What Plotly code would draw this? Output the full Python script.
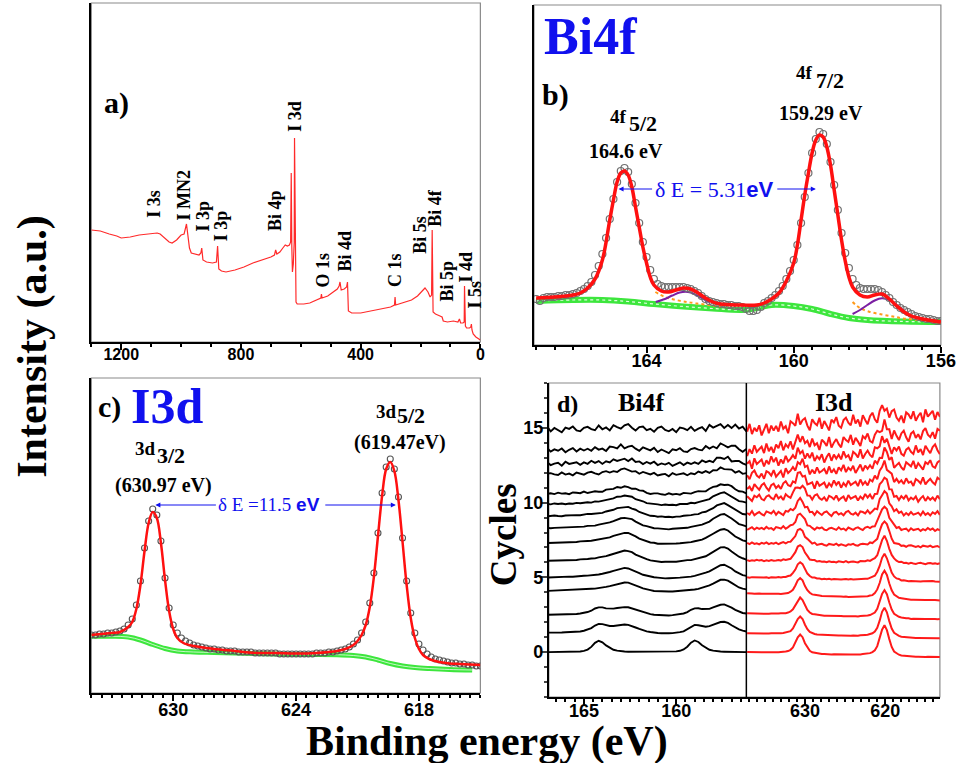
import numpy as np
import plotly.graph_objects as go

W, H = 971, 763
KX = 0.992  # small horizontal correction for the rendered page
SERIF = "Liberation Serif"
SANS = "Liberation Sans"
BLUE = "#1010ee"

# ---------------- Panel a: survey spectrum ----------------
survey_be = [1300,1270,1240,1215,1200,1170,1140,1110,1080,1070,
             1055,1040,1030,1015,1000,990,982,976,972,966,
             950,940,934,931,927,915,895,882,878,874,
             865,850,820,790,760,730,700,688,684,680,
             670,660,652,645,638,634,632,630,628,625,
             622,621,619.5,618,616,612,590,570,545,533,
             531,529,510,490,478,472,469,465,455,447,
             444,441,430,400,370,330,300,287,285,283,
             260,230,210,195,185,175,168,163,161,158,
             150,135,128,124,110,90,75,70,66,58,
             54,53,50,46,36,32,30,28,24,15,
             6,0]
survey_int = [112,111,108,106,104,105,107,108,109,108,
              104,100,99,102,107,108,118,104,94,89,
              88,87,89,94,82,80,79,80,96,73,
              71,70,72,75,79,82,85,87,92,88,
              90,94,97,96,97,100,169,95,70,78,
              100,204,110,55,40,38,38,39,42,44,
              48,44,46,50,53,56,60,52,53,55,
              60,31,29,29,31,33,35,37,45,37,
              39,42,46,51,54,50,45,47,112,30,
              28,26,25,21,20,21,20,23,19,19,
              20,56,16,14,14,15,18,12,8,5,
              3,2]
survey_labels = ["I 3s", "I MN2", "I 3p", "I 3p", "Bi 4p", "I 3d", "O 1s",
                 "Bi 4d", "C 1s", "Bi 5s", "Bi 4f", "Bi 5p", "I 4d", "I 5s"]
survey_ticks = [1200, 800, 400, 0]

# ---------------- Panel b: Bi4f ----------------
b_data_start, b_data_step = 167.0, 0.1
b_data_int = [46,44,47,48,48,48,49,49,50,50,
              51,52,54,56,59,63,70,79,91,107,
              126,146,163,174,177,173,161,142,122,103,
              88,75,66,61,59,58,58,58,58,58,
              58,57,56,54,52,49,46,44,43,42,
              41,41,40,40,39,39,38,36,34,34,
              35,38,42,44,47,50,54,59,66,74,
              85,100,122,148,172,192,206,213,211,201,
              183,160,135,112,92,77,66,60,57,56,
              56,56,56,55,53,50,47,43,40,37,
              35,33,31,29,28,27,26,26,25,24,
              24]
b_fit_be = [167.0,166.5,166.0,165.8,165.6,165.4,165.2,165.0,164.9,164.8,
            164.7,164.6,164.5,164.4,164.3,164.2,164.1,164.0,163.9,163.8,
            163.6,163.4,163.2,163.0,162.8,162.6,162.4,162.2,162.0,161.5,
            161.0,160.8,160.6,160.4,160.2,160.0,159.9,159.8,159.7,159.6,
            159.5,159.4,159.3,159.2,159.1,159.0,158.9,158.8,158.7,158.6,
            158.5,158.4,158.2,158.0,157.8,157.6,157.4,157.2,157.0,156.8,
            156.5,156.0]
b_fit_int = [47,48,50,52,57,66,85,125,145,163,
             172,174,170,158,138,118,98,82,68,60,
             54,53,55,57,56,52,47,43,41,40,
             40,42,46,52,64,82,100,125,150,172,
             192,205,210,208,198,180,155,130,105,84,
             68,58,50,48,50,51,46,39,33,29,
             26,23]
b_bg_be = [167.0,166.0,165.2,164.5,163.8,163.0,162.2,161.4,161.0,160.6,160.0,159.5,159.0,158.5,158.0,157.0,156.0]
b_bg_int = [44,45,45,43.5,41,38.5,36.5,35,37,40,39,36,31,27,25,23.5,23]
b_sat1_be = [163.75,163.5,163.3,163.1,162.94,162.8,162.6,162.4,162.3]
b_sat1_int = [43,46,49.5,52.5,53.3,52.5,49,45,43]
b_sat2_be = [158.4,158.2,158.0,157.8,157.6,157.4,157.2,157.0,156.85]
b_sat2_int = [31,35,40,44.5,46.7,45,40,34,30]
b_tail1_be = [163.76,163.5,163.2,162.9,162.67,162.3,161.94]
b_tail1_int = [53,48,45,43,41.7,40,38.3]
b_tail2_be = [158.4,158.2,157.95,157.6,157.3,157.05,156.6,156.15]
b_tail2_int = [43,37,33.3,30.5,28.5,26.7,25,23.3]
b_ticks = [164, 160, 156]

# ---------------- Panel c: I3d ----------------
c_data_start, c_data_step = 634.0, 0.2
c_data_int = [58,58,59,59,60,60,61,62,64,68,
              74,88,112,145,172,184,178,152,115,85,
              68,60,55,52,50,48,47,46,45,44,
              44,43,43,42,42,42,41,41,41,41,
              40,40,40,40,40,40,39,39,39,39,
              39,39,39,39,39,40,40,40,41,41,
              42,43,44,46,49,53,60,71,90,120,
              160,200,226,234,224,196,155,112,80,60,
              49,43,39,36,34,33,32,31,30,30,
              29,29,28,28,27,27]
c_fit_be = [634.0,633.0,632.6,632.2,632.0,631.8,631.6,631.4,631.2,631.0,
            630.8,630.6,630.4,630.2,630.0,629.8,629.5,629.0,628.0,627.0,
            626.0,625.0,624.0,623.0,622.4,622.0,621.6,621.2,621.0,620.8,
            620.6,620.4,620.2,620.0,619.8,619.6,619.4,619.2,619.0,618.8,
            618.6,618.4,618.2,618.0,617.8,617.5,617.0,616.5,616.0,615.0]
c_fit_int = [58,60,61,66,71,84,108,142,170,181,
             175,150,113,82,64,55,50,47,44,42,
             40,40,39.5,40,41,42,44,48,52,58,
             68,86,116,157,197,224,231,222,193,151,
             108,75,55,44,38,34,31,29.5,29,28]
c_bg_be = [634,633,632.2,631.6,631.0,630.4,629.8,629,628,627,626,625,624,623,622,621.2,620.6,620,619.4,618.8,618.2,617.5,616.5,615.4]
c_bg_int = [56.7,56.7,56,53,48.5,44.5,42,41,40.5,40,39.5,39,38.5,38.5,38.3,37.5,36,33,29.5,27,25.5,24.5,23.5,23]
c_ticks = [630, 624, 618]

# ---------------- Panel d: cycles ----------------
bi_start, bi_step = 167.0, 0.2
bi_profile_new = [0.00,0.00,0.01,0.01,0.02,0.03,0.04,0.05,0.06,0.08,
                  0.10,0.12,0.14,0.17,0.20,0.24,0.29,0.35,0.43,0.51,
                  0.58,0.62,0.60,0.52,0.40,0.28,0.18,0.10,0.04,0.00,
                  -0.03,-0.05,-0.06,-0.06,-0.05,-0.04,-0.02,0.00,0.03,0.06,
                  0.10,0.15,0.22,0.30,0.41,0.55,0.70,0.82,0.84,0.75,
                  0.58,0.40,0.26,0.16,0.10]
bi_profile_c0 = [0.00,0.00,0.00,0.00,0.00,0.00,0.01,0.01,0.02,0.04,
                 0.08,0.17,0.35,0.62,0.76,0.66,0.45,0.28,0.16,0.10,
                 0.06,0.04,0.03,0.03,0.03,0.02,0.02,0.02,0.01,0.01,
                 0.01,0.01,0.01,0.02,0.03,0.05,0.09,0.18,0.36,0.63,
                 0.78,0.68,0.46,0.28,0.16,0.10,0.06,0.04,0.03,0.02,
                 0.02,0.01,0.01,0.00,0.00]
bi_base = [0.0, 1.3, 2.5, 4.1, 5.0, 6.1, 7.3, 8.3, 9.1, 9.9, 10.6, 11.9, 12.6, 13.5, 14.9]
bi_amp_old = [1.0, 0.55, 0.45, 0, 0, 0, 0, 0, 0, 0, 0, 0, 0, 0, 0]
bi_amp_new = [0.0, 0.85, 0.8, 0.9, 1.0, 1.1, 1.1, 1.1, 1.0, 0.9, 0.75, 0.45, 0.45, 0.4, 0.3]
bi_jitter = [0.0, 0.01, 0.01, 0.012, 0.015, 0.02, 0.02, 0.025, 0.03, 0.04, 0.07, 0.12, 0.15, 0.18, 0.22]

i3_start, i3_step = 637.2, 0.3
i3_profile = ([0.0] * 12 +
              [0.01,0.02,0.03,0.04,0.06,0.09,0.16,0.32,0.60,0.94,1.11,0.94,0.58,0.30,0.12,0.04,0.00,-0.03,-0.05,-0.06,-0.07] +
              [-0.08] * 14 +
              [-0.06,-0.05,-0.03,-0.01,0.02,0.08,0.20,0.44,0.90,1.45,1.72,1.43,0.88,0.40,0.14,0.01,-0.06,-0.11,-0.13,-0.15,-0.16] +
              [-0.18] * 13)
i3_left = [0.0, 1.27, 2.6, 3.93, 5.0, 6.13, 7.27, 8.27, 9.27, 10.33, 11.0, 11.8, 12.6, 13.47, 14.8]
i3_right = [-0.33, 0.93, 2.2, 3.47, 4.73, 5.93, 7.07, 8.2, 9.27, 10.27, 11.47, 12.6, 13.6, 14.67, 15.93]
i3_amp = [1.1, 1.05, 1.0, 1.0, 0.95, 0.95, 0.9, 0.85, 0.8, 0.75, 0.7, 0.6, 0.5, 0.45, 0.4]
i3_jitter = [0.01, 0.01, 0.015, 0.02, 0.03, 0.05, 0.08, 0.12, 0.18, 0.25, 0.3, 0.35, 0.4, 0.45, 0.5]

# read-off wiggle pattern of the noisy traces (unit amplitude)
wiggle = [0.3,-0.5,0.8,-0.2,0.1,-0.9,0.6,0.2,-0.4,0.9,-0.7,0.0,0.5,-0.3,-0.8,0.7,0.2,-0.1,0.9,-0.6,
          0.4,-0.2,-0.9,0.5,0.1,0.8,-0.4,-0.7,0.3,0.6,-0.1,-0.5,0.9,-0.3,0.2,-0.8,0.7,0.0,-0.6,0.4,
          0.8,-0.2,-0.9,0.3,0.6,-0.4,0.1,-0.7,0.5,0.9,-0.1,-0.5,0.2,-0.8,0.6,0.3,-0.3,0.7,-0.6,0.0,
          0.4,-0.9,0.8,-0.2,0.1,0.5,-0.7,0.3,-0.4,0.9,-0.1,0.6,-0.8,0.2,-0.5,0.7,-0.3,0.0,0.4,-0.6,
          0.8,-0.4,0.2,-0.7,0.5,-0.1,0.9,-0.5,0.3,-0.2,0.6,-0.8,0.1,0.7,-0.6,0.4,-0.3]

# ================= figure =================
def px(x):
    return min(x / (W * KX), 1.0)

def py(y):
    return 1 - y / H

fig = go.Figure()

# panel a
fig.add_trace(go.Scatter(x=survey_be, y=survey_int, mode="lines",
                         line=dict(color="#ff2a2a", width=1.2), xaxis="x", yaxis="y"))

# panel b
b_data_be = np.round(b_data_start - b_data_step * np.arange(len(b_data_int)), 2)
fig.add_trace(go.Scatter(x=b_bg_be, y=b_bg_int, mode="lines",
                         line=dict(color="#3de63d", width=6, shape="spline"), xaxis="x2", yaxis="y2"))
fig.add_trace(go.Scatter(x=b_bg_be, y=b_bg_int, mode="lines",
                         line=dict(color="rgba(255,255,255,0.85)", width=1.2, dash="dot", shape="spline"),
                         xaxis="x2", yaxis="y2"))
for bx, by in [(b_tail1_be, b_tail1_int), (b_tail2_be, b_tail2_int)]:
    fig.add_trace(go.Scatter(x=bx, y=by, mode="lines",
                             line=dict(color="#ff9a1a", width=2, dash="dot", shape="spline"),
                             xaxis="x2", yaxis="y2"))
for bx, by in [(b_sat1_be, b_sat1_int), (b_sat2_be, b_sat2_int)]:
    fig.add_trace(go.Scatter(x=bx, y=by, mode="lines",
                             line=dict(color="#7b1fa2", width=2, shape="spline"),
                             xaxis="x2", yaxis="y2"))
fig.add_trace(go.Scatter(x=b_data_be, y=b_data_int, mode="markers",
                         marker=dict(symbol="circle-open", size=7, color="#707070", line=dict(width=1.2)),
                         xaxis="x2", yaxis="y2"))
fig.add_trace(go.Scatter(x=b_fit_be, y=b_fit_int, mode="lines",
                         line=dict(color="#ff1010", width=3.5, shape="spline"), xaxis="x2", yaxis="y2"))

# panel c
c_data_be = np.round(c_data_start - c_data_step * np.arange(len(c_data_int)), 2)
fig.add_trace(go.Scatter(x=c_bg_be, y=c_bg_int, mode="lines",
                         line=dict(color="#3de63d", width=5, shape="spline"), xaxis="x3", yaxis="y3"))
fig.add_trace(go.Scatter(x=c_bg_be, y=c_bg_int, mode="lines",
                         line=dict(color="rgba(255,255,255,0.7)", width=1, shape="spline"),
                         xaxis="x3", yaxis="y3"))
fig.add_trace(go.Scatter(x=c_data_be, y=c_data_int, mode="markers",
                         marker=dict(symbol="circle-open", size=6, color="#555555", line=dict(width=1.1)),
                         xaxis="x3", yaxis="y3"))
fig.add_trace(go.Scatter(x=c_fit_be, y=c_fit_int, mode="lines",
                         line=dict(color="#ff1010", width=2.5, shape="spline"), xaxis="x3", yaxis="y3"))

# panel d
bi_be = np.round(bi_start - bi_step * np.arange(len(bi_profile_new)), 2)
p_new = np.array(bi_profile_new)
p_old = np.array(bi_profile_c0)
wig = np.array(wiggle)
nw = len(wig)
for c in range(len(bi_base)):
    idx = (np.arange(len(bi_be)) + 29 * c) % nw
    y = bi_base[c] + bi_amp_old[c] * p_old + bi_amp_new[c] * p_new + bi_jitter[c] * wig[idx]
    fig.add_trace(go.Scatter(x=bi_be, y=y, mode="lines", line=dict(color="black", width=1.9),
                             xaxis="x4", yaxis="y4"))

i3_be = np.round(i3_start - i3_step * np.arange(len(i3_profile)), 2)
p_i3 = np.array(i3_profile)
frac = (i3_be[0] - i3_be) / (i3_be[0] - i3_be[-1])
for c in range(len(i3_left)):
    idx = (np.arange(len(i3_be)) + 13 * c) % nw
    tilt = i3_right[c] - i3_left[c] + 0.18 * i3_amp[c]
    y = i3_left[c] + tilt * frac + i3_amp[c] * p_i3 + i3_jitter[c] * wig[idx]
    fig.add_trace(go.Scatter(x=i3_be, y=y, mode="lines", line=dict(color="#ff1a1a", width=2),
                             xaxis="x5", yaxis="y4"))

# ---------------- axes ----------------
def xax(domain, rng, ticks, minor_dtick, anchor, size, standoff):
    return dict(domain=domain, range=rng, anchor=anchor, tickmode="array", tickvals=ticks,
                ticktext=[str(t) for t in ticks], ticks="outside", ticklen=6, tickwidth=1.5,
                tickcolor="black", ticklabelstandoff=standoff, ticklabeloverflow="allow",
                minor=dict(dtick=minor_dtick, ticks="outside", ticklen=3, tickcolor="black", showgrid=False),
                showline=True, linecolor="black", linewidth=2, showgrid=False, zeroline=False,
                tickfont=dict(family=SANS, size=size, color="black", weight="bold"))

def yax(domain, rng, anchor):
    return dict(domain=domain, range=rng, anchor=anchor, showticklabels=False, ticks="",
                showline=True, linecolor="black", linewidth=2, showgrid=False, zeroline=False)

layout = dict(
    width=W, height=H, margin=dict(l=0, r=0, t=0, b=0), autosize=False,
    paper_bgcolor="white", plot_bgcolor="white", showlegend=False,
    xaxis=xax([px(92), px(484)], [1300, 0], survey_ticks, 100, "y", 16, -9),
    yaxis=yax([py(342), py(3)], [0, 339], "x"),
    xaxis2=xax([px(538), px(948)], [167.06, 156.0], b_ticks, 0.5, "y2", 18, -8),
    yaxis2=yax([py(345), py(5)], [0, 340], "x2"),
    xaxis3=xax([px(92), px(484)], [634.0, 615.0], c_ticks, 0.5, "y3", 18, -7),
    yaxis3=yax([py(693), py(378)], [0, 315], "x3"),
    xaxis4=xax([px(553), px(752)], [166.9, 156.2], [165, 160], 0.5, "y4", 18, -10),
    xaxis5=xax([px(752), px(947)], [637.3, 613.2], [630, 620], 1, "y4", 18, -10),
    yaxis4=dict(domain=[py(697), py(383)], range=[-3, 18], anchor="x4",
                tickmode="array", tickvals=[0, 5, 10, 15], ticks="outside", ticklen=6, tickwidth=1.5,
                ticklabelstandoff=-6,
                minor=dict(dtick=1, ticks="outside", ticklen=3),
                showline=True, linecolor="black", linewidth=2, showgrid=False, zeroline=False,
                tickfont=dict(family=SANS, size=18, color="black", weight="bold")),
)
fig.update_layout(**layout)

# frames (thin grey top/right) and d divider
shapes = []
for (x0, y0, x1, y1) in [(92, 3, 484, 342), (538, 5, 948, 345), (92, 378, 484, 693), (553, 383, 947, 697)]:
    shapes.append(dict(type="rect", xref="paper", yref="paper", x0=px(x0), x1=px(x1), y0=py(y1), y1=py(y0),
                       line=dict(color="#8a8a8a", width=1.2), layer="below"))
shapes.append(dict(type="line", xref="paper", yref="paper", x0=px(752), x1=px(752), y0=py(697), y1=py(383),
                   line=dict(color="black", width=1.5)))
fig.update_layout(shapes=shapes)

# ---------------- annotations ----------------
anns = []

def ann(text, x, y, size, color="black", angle=0, family=SERIF, bold=True):
    anns.append(dict(text=("<b>%s</b>" % text) if bold else text, x=px(x), y=py(y),
                     xref="paper", yref="paper", showarrow=False, textangle=angle,
                     xanchor="center", yanchor="middle",
                     font=dict(family=family, size=size, color=color)))

# survey labels
label_pos = [(155, 204), (185, 195), (205, 216), (223, 226), (277, 210), (297, 116), (325, 270),
             (348, 251), (398, 270), (423, 235), (438, 208), (450, 281), (470, 267), (479, 294)]
for t, (x, y) in zip(survey_labels, label_pos):
    ann(t, x, y, 18, angle=-90)

ann("a)", 117, 103, 30)
ann("b)", 560, 95, 30)
ann("c)", 110, 407, 30)
ann("d)", 572, 404, 24)
ann("Bi4f", 595, 37, 52, color=BLUE)
ann("I3d", 168, 406, 50, color=BLUE)
ann("Bi4f", 646, 402, 26)
ann("I3d", 840, 402, 26)

# peak labels panel b
ann("4f", 623, 116, 19)
ann("5/2", 648, 123, 22)
ann("164.6 eV", 631, 151, 20)
ann("4f", 811, 73, 19)
ann("7/2", 836, 80, 22)
ann("159.29 eV", 827, 113, 20)
# peak labels panel c
ann("3d", 147, 449, 19)
ann("3/2", 172, 455, 22)
ann("(630.97 eV)", 165, 485, 20)
ann("3d", 389, 411, 19)
ann("5/2", 414, 415, 22)
ann("(619.47eV)", 403, 442, 20)

# delta E labels
anns.append(dict(text='<span style="font-family:Liberation Serif">δ E = 5.31</span><b>eV</b>',
                 x=px(719), y=py(189), xref="paper", yref="paper", showarrow=False,
                 xanchor="center", yanchor="middle",
                 font=dict(family=SANS, size=22, color=BLUE)))
anns.append(dict(text='<span style="font-family:Liberation Serif">δ E =11.5 </span><b>eV</b>',
                 x=px(271), y=py(505), xref="paper", yref="paper", showarrow=False,
                 xanchor="center", yanchor="middle",
                 font=dict(family=SANS, size=19, color=BLUE)))
for (xh, yh, ax, xr, yr) in [(164.76, 156, 35, "x2", "y2"), (159.40, 156, -40, "x2", "y2"),
                             (630.87, 188, 62, "x3", "y3"), (619.13, 188, -72, "x3", "y3")]:
    anns.append(dict(text="", x=xh, y=yh, xref=xr, yref=yr, showarrow=True, ax=ax, ay=0,
                     arrowhead=2, arrowsize=1, arrowwidth=1, arrowcolor=BLUE))

# global titles
ann("Intensity (a.u.)", 32, 346, 42, angle=-90)
ann("Binding energy (eV)", 491, 741, 42)
ann("Cycles", 507, 535, 37, angle=-90)

fig.update_layout(annotations=anns)
fig.write_html(
    "out.html",
    config={"responsive": False, "displayModeBar": False},
    post_script=("document.body.style.margin='0px';document.body.style.padding='0px';"
                 "document.documentElement.style.overflow='hidden';document.body.style.overflow='hidden';"),
)
